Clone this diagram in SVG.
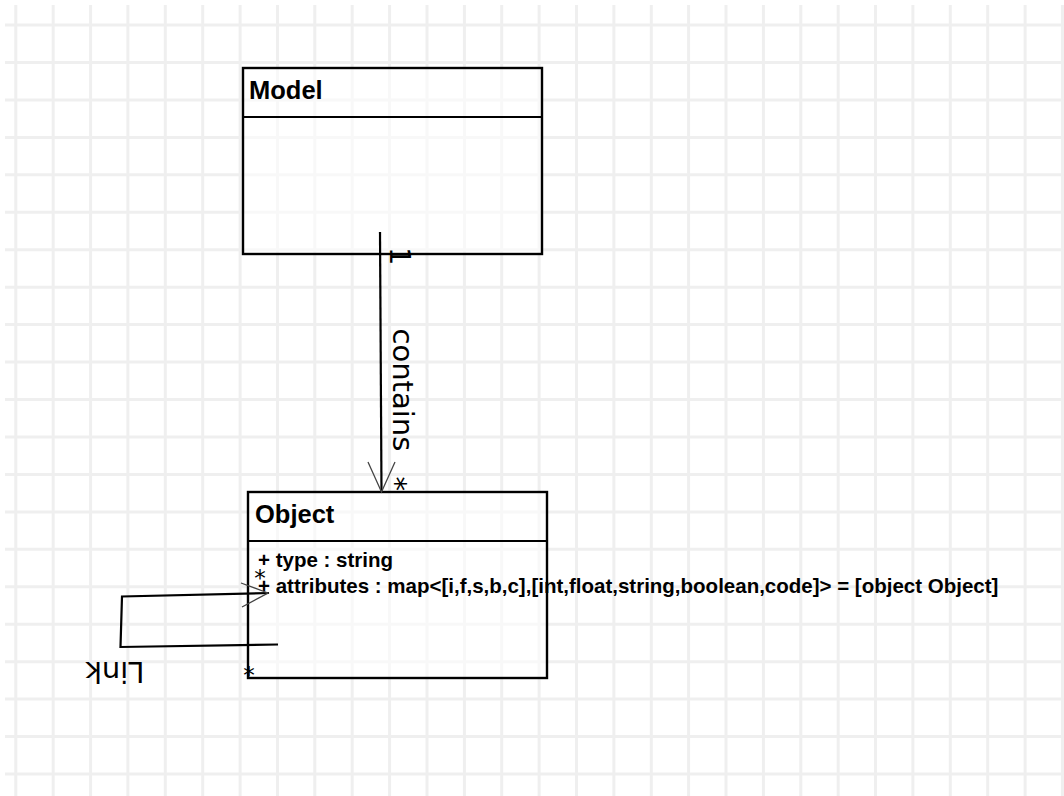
<svg xmlns="http://www.w3.org/2000/svg" width="1064" height="796" viewBox="0 0 1064 796">
  <style>
    .grid { stroke: #efefef; stroke-width: 3; fill: none; }
    .box { fill: #ffffff; fill-opacity: 0.55; stroke: #000; stroke-width: 2.4; }
    .sep { stroke: #000; stroke-width: 2.2; fill: none; }
    .title { font-family: "Liberation Sans", Arial, sans-serif; font-weight: bold; font-size: 25.5px; fill: #000; }
    .attr { font-family: "Liberation Sans", Arial, sans-serif; font-weight: bold; font-size: 20.5px; fill: #000; }
    .edge { stroke: #000; stroke-width: 2.2; fill: none; }
    .head { stroke: #444; stroke-width: 1.3; fill: none; }
    .lbl { font-family: "DejaVu Sans", "Liberation Sans", sans-serif; font-size: 29px; fill: #000; }
    .mult { font-family: "DejaVu Sans", "Liberation Sans", sans-serif; font-size: 23px; fill: #000; }
  </style>

  <rect width="1064" height="796" fill="#ffffff"/>

  <!-- background grid -->
  <path class="grid" d="M15.8 5V796M53.2 5V796M90.6 5V796M127.9 5V796M165.3 5V796M202.7 5V796M240.1 5V796M277.5 5V796M314.8 5V796M352.2 5V796M389.6 5V796M427 5V796M464.4 5V796M501.7 5V796M539.1 5V796M576.5 5V796M613.9 5V796M651.3 5V796M688.6 5V796M726 5V796M763.4 5V796M800.8 5V796M838.2 5V796M875.5 5V796M912.9 5V796M950.3 5V796M987.7 5V796M1025.1 5V796M1062.4 5V796"/>
  <path class="grid" d="M5 25H1064M5 62.5H1064M5 99.9H1064M5 137.4H1064M5 174.8H1064M5 212.3H1064M5 249.7H1064M5 287.2H1064M5 324.6H1064M5 362.1H1064M5 399.5H1064M5 437H1064M5 474.4H1064M5 511.9H1064M5 549.3H1064M5 586.8H1064M5 624.2H1064M5 661.7H1064M5 699.1H1064M5 736.6H1064M5 774H1064"/>

  <!-- class: Model -->
  <g id="model">
    <rect class="box" x="243" y="68" width="299" height="186"/>
    <line class="sep" x1="243" y1="117" x2="542" y2="117"/>
    <text class="title" x="249" y="99">Model</text>
  </g>

  <!-- class: Object -->
  <g id="object">
    <rect class="box" x="248" y="492" width="299" height="186"/>
    <line class="sep" x1="248" y1="541" x2="547" y2="541"/>
    <text class="title" x="255" y="523">Object</text>
    <text class="attr" x="258" y="567">+ type : string</text>
    <text class="attr" x="258" y="593">+ attributes : map&lt;[i,f,s,b,c],[int,float,string,boolean,code]&gt; = [object Object]</text>
  </g>

  <!-- associations -->
  <g id="connectors">
    <!-- Model contains Object -->
    <g id="edge-contains">
      <path class="edge" d="M380 232L381.5 492"/>
      <path class="head" d="M368 462L381.5 492L395 462"/>
      <text class="lbl" transform="rotate(90 390 247)" x="390" y="247">1</text>
      <text class="lbl" transform="rotate(90 393 328.5)" x="393" y="328.5">contains</text>
      <text class="lbl" transform="rotate(90 386 476.5)" x="386" y="476.5">*</text>
    </g>
    <!-- Object self link -->
    <g id="edge-link">
      <path class="edge" d="M278 644.5L120.5 647L122 596.5L269 593"/>
      <path class="head" d="M241 583L268 593L242 607"/>
      <text class="mult" text-anchor="middle" x="260" y="585.5">*</text>
      <text class="mult" text-anchor="middle" x="249" y="683">*</text>
      <text class="lbl" transform="rotate(180 144.5 662)" x="144.5" y="662">Link</text>
    </g>
  </g>
</svg>
